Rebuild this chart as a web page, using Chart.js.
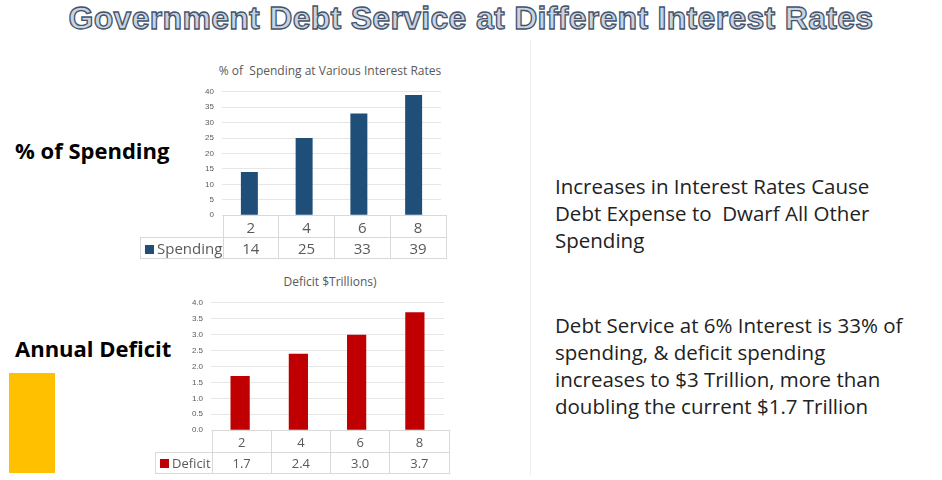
<!DOCTYPE html>
<html><head><meta charset="utf-8">
<script src="https://cdn.jsdelivr.net/npm/chart.js@4"></script>
<style>
body{margin:0;width:942px;height:480px;background:#fff;position:relative;overflow:hidden;font-family:"Open Sans","Liberation Sans",sans-serif;}
.abs{position:absolute;}
#title{left:0;width:942px;top:0px;text-align:center;white-space:nowrap;font:bold 32px "Liberation Sans",sans-serif;color:#c9d3e3;-webkit-text-stroke:1.3px #44546a;letter-spacing:0.3px;}
.lbl{font-weight:bold;font-size:22px;color:#000;}
.rt{left:555px;font-size:20.5px;line-height:27px;color:#222;}
.ct{font-size:12px;color:#595959;text-align:center;}
.tbl{position:absolute;border-collapse:collapse;color:#595959;}
.tbl td{border:1px solid #d9d9d9;text-align:center;padding:0;}
</style></head><body>
<div id="title" class="abs">Government Debt Service at Different Interest Rates</div>
<div class="abs lbl" style="left:15px;top:135px">% of Spending</div>
<div class="abs lbl" style="left:15px;top:333px">Annual Deficit</div>
<div class="abs" style="left:9px;top:373px;width:46px;height:100px;background:#ffc000"></div>
<div class="abs" style="left:530px;top:40px;width:1px;height:435px;background:#eee"></div>
<div class="abs rt" style="top:173px">Increases in Interest Rates Cause<br>Debt Expense to&nbsp; Dwarf All Other<br>Spending</div>
<div class="abs rt" style="top:312px">Debt Service at 6% Interest is 33% of<br>spending, &amp; deficit spending<br>increases to $3 Trillion, more than<br>doubling the current $1.7 Trillion</div>
<div class="abs ct" style="left:140px;width:380px;top:62px">% of&nbsp; Spending at Various Interest Rates</div>
<div class="abs ct" style="left:140px;width:380px;top:273px">Deficit $Trillions)</div>
<div class="abs" style="left:140px;top:79px;width:305px;height:149px"><canvas id="c1"></canvas></div>
<div class="abs" style="left:140px;top:290px;width:308px;height:153px"><canvas id="c2"></canvas></div>
<script>
const rates = ["2","4","6","8"];
const spending = [14,25,33,39];
const deficit = [1.7,2.4,3.0,3.7];
const deficitLabels = ["1.7","2.4","3.0","3.7"];

function mk(id, data, color, max, step, dec, barPct, axW){
  return new Chart(document.getElementById(id), {
    type:'bar',
    data:{labels:rates, datasets:[{data:data, backgroundColor:color, borderWidth:0, categoryPercentage:1, barPercentage:barPct}]},
    options:{responsive:true, maintainAspectRatio:false, animation:false,
      layout:{padding:{top:4,right:4,bottom:0,left:0}},
      plugins:{legend:{display:false},tooltip:{enabled:false}},
      scales:{
        x:{display:false},
        y:{min:0,max:max,afterFit:a=>{a.width=axW;},
           ticks:{stepSize:step,color:'#595959',font:{size:8},padding:8,callback:v=>dec?v.toFixed(1):v},
           grid:{color:'#e6e6e6',drawTicks:false},border:{display:false}}
      }}
  });
}
function table(chart, top, legendLeft, name, color, vals, fs){
  const a = chart.chartArea, box = chart.canvas.parentNode;
  const left = box.offsetLeft + a.left, w = a.right - a.left;
  const t = document.createElement('table'); t.className='tbl';
  t.style.left = legendLeft+'px'; t.style.top = top+'px';
  const cw = w/4;
  let h = '<tr><td style="border:none;border-right:1px solid #d9d9d9;width:'+(left-legendLeft)+'px"></td>';
  rates.forEach(r=>h+='<td style="width:'+cw+'px;height:21px;font-size:'+fs+'px">'+r+'</td>');
  h+='</tr><tr><td style="height:20px;font-size:'+fs+'px;text-align:left;padding-left:4px;white-space:nowrap"><span style="display:inline-block;width:9px;height:9px;background:'+color+';margin-right:3px"></span>'+name+'</td>';
  vals.forEach(v=>h+='<td style="font-size:'+fs+'px">'+v+'</td>');
  t.innerHTML = h+'</tr>';
  document.body.appendChild(t);
}
const c1 = mk('c1', spending, '#1f4e79', 40, 5, false, 0.31, 82);
const c2 = mk('c2', deficit, '#c00000', 4, 0.5, true, 0.33, 71);
table(c1, 79+c1.chartArea.bottom, 140, 'Spending', '#1f4e79', spending, 15);
table(c2, 290+c2.chartArea.bottom, 155, 'Deficit', '#c00000', deficitLabels, 13);
</script>
</body></html>
